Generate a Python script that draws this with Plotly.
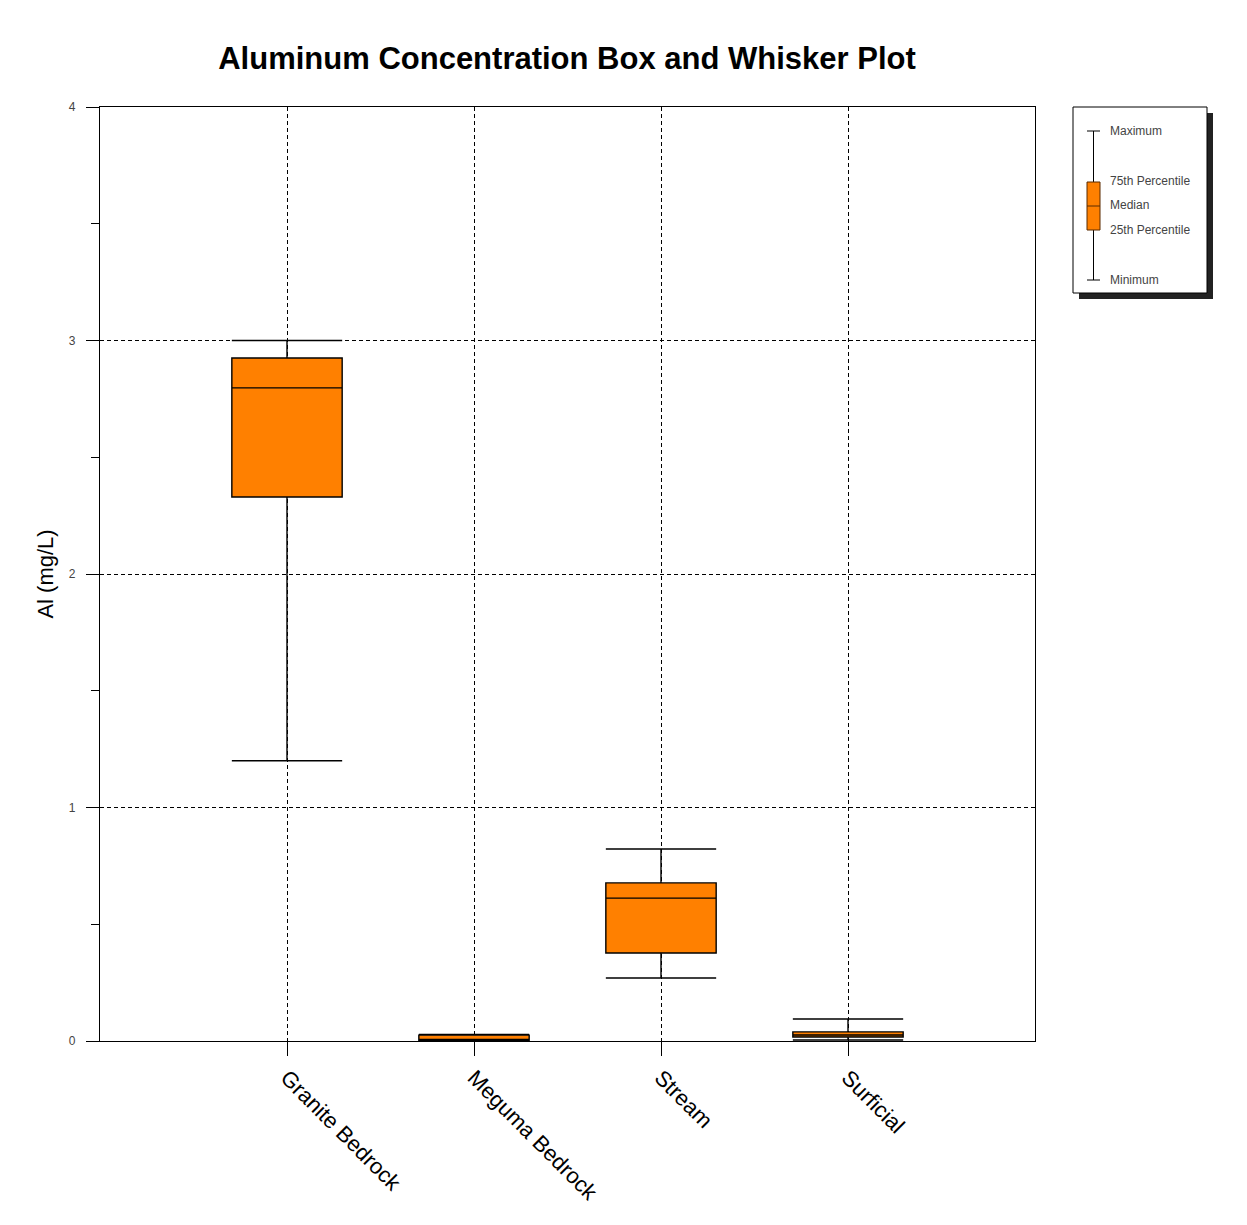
import plotly.graph_objects as go

categories = ["Granite Bedrock", "Meguma Bedrock", "Stream", "Surficial"]
minimum = [1.20, 0.000, 0.27, 0.004]
q25 = [2.33, 0.002, 0.377, 0.017]
median = [2.797, 0.006, 0.612, 0.026]
q75 = [2.925, 0.025, 0.677, 0.039]
maximum = [3.00, 0.028, 0.822, 0.094]
yticks = [0, 1, 2, 3, 4]

W, H = 1247, 1225
OFF = 8  # page body offset
L, R, T, B = 100 - OFF, 1035 - OFF, 107 - OFF, 1041 - OFF
FONT = "Liberation Sans, Arial"

fig = go.Figure()
for i, c in enumerate(categories):
    fig.add_trace(go.Box(
        x=[i], q1=[q25[i]], median=[median[i]], q3=[q75[i]],
        lowerfence=[minimum[i]], upperfence=[maximum[i]],
        name=c, width=0.59, whiskerwidth=1,
        fillcolor="#FF8000", line=dict(color="black", width=1.4),
        boxpoints=False, showlegend=False, hoverinfo="y"))

def px(x):
    return (x - OFF - L) / (R - L)

def py(y):
    return (B - (y - OFF)) / (B - T)

shapes = []
shapes.append(dict(type="rect", xref="paper", yref="paper", x0=px(1079), x1=px(1213), y0=py(299), y1=py(113),
                   fillcolor="#222222", line=dict(width=0), layer="above"))
shapes.append(dict(type="rect", xref="paper", yref="paper", x0=px(1073), x1=px(1207), y0=py(293), y1=py(107),
                   fillcolor="white", line=dict(color="black", width=1), layer="above"))
shapes.append(dict(type="line", xref="paper", yref="paper", x0=px(1093.5), x1=px(1093.5), y0=py(131), y1=py(280),
                   line=dict(color="black", width=1), layer="above"))
for yy in (131, 280):
    shapes.append(dict(type="line", xref="paper", yref="paper", x0=px(1087), x1=px(1100), y0=py(yy), y1=py(yy),
                       line=dict(color="black", width=1), layer="above"))
shapes.append(dict(type="rect", xref="paper", yref="paper", x0=px(1087), x1=px(1100), y0=py(230), y1=py(182),
                   fillcolor="#FF8000", line=dict(color="#5a2a00", width=1), layer="above"))
shapes.append(dict(type="line", xref="paper", yref="paper", x0=px(1087), x1=px(1100), y0=py(206), y1=py(206),
                   line=dict(color="#5a2a00", width=1), layer="above"))

annotations = []
for txt, yy in [("Maximum", 131), ("75th Percentile", 181), ("Median", 205), ("25th Percentile", 230), ("Minimum", 280)]:
    annotations.append(dict(text=txt, xref="paper", yref="paper", x=px(1108), y=py(yy), xanchor="left", yanchor="middle",
                            showarrow=False, font=dict(family=FONT, size=12, color="#444444")))

fig.update_layout(
    width=W, height=H,
    margin=dict(l=L, r=W - R, t=T, b=H - B),
    paper_bgcolor="white", plot_bgcolor="white",
    title=dict(text="<b>Aluminum Concentration Box and Whisker Plot</b>", x=(567 - OFF) / W, xanchor="center",
               y=1 - (58 - OFF) / H, yanchor="middle",
               font=dict(family=FONT, size=31, color="black")),
    font=dict(family=FONT, color="black"),
    shapes=shapes, annotations=annotations,
    xaxis=dict(range=[-1, 4], tickvals=[0, 1, 2, 3], ticktext=categories, tickangle=45,
               ticks="outside", ticklen=14, tickcolor="black", tickwidth=1.3,
               showgrid=True, gridcolor="black", griddash="4px,3px", gridwidth=1.2,
               showline=True, linecolor="black", linewidth=1.4, mirror=True, zeroline=False,
               tickfont=dict(family=FONT, size=22, color="black")),
    yaxis=dict(range=[0, 4], tickvals=yticks, ticks="outside", ticklen=13, tickcolor="black", tickwidth=1,
               minor=dict(dtick=0.5, ticks="outside", ticklen=8, tickcolor="black", showgrid=False),
               showgrid=True, gridcolor="black", griddash="4px,3px", gridwidth=1.2,
               showline=True, linecolor="black", linewidth=1.4, mirror=True, zeroline=False,
               ticklabelstandoff=8,
               title=dict(text="Al (mg/L)", font=dict(family=FONT, size=22, color="black"), standoff=9),
               tickfont=dict(family=FONT, size=12, color="#444444")),
)

fig.write_html("out.html")
